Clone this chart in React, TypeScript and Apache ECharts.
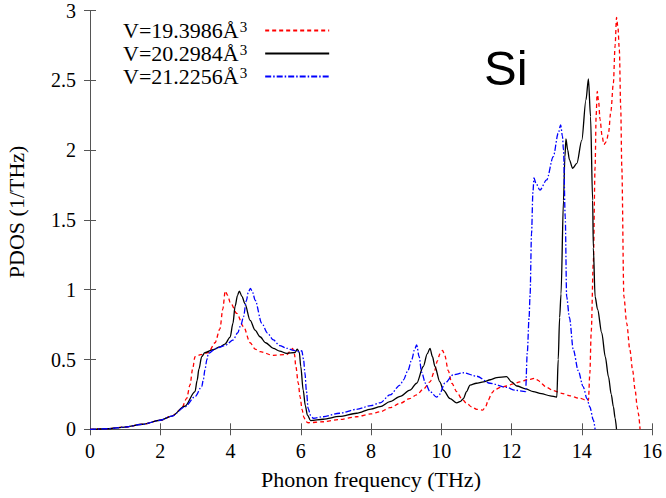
import React, { useEffect, useRef } from "react";
import * as echarts from "echarts";

const seriesNames = ["V=19.3986", "V=20.2984", "V=21.2256"];
const volumeUnit = "Å";

const red: number[][] = [
  [0, 0], [0.5, 0.004], [1.0, 0.016], [1.5, 0.036], [2.0, 0.065], [2.33, 0.095], [2.6, 0.145], [2.75, 0.22],
  [2.85, 0.32], [2.92, 0.43], [2.99, 0.52], [3.15, 0.535], [3.37, 0.55], [3.56, 0.62], [3.7, 0.72], [3.78, 0.86],
  [3.85, 0.99], [3.92, 0.96], [3.99, 0.91], [4.18, 0.83], [4.37, 0.735], [4.56, 0.62], [4.7, 0.575], [4.84, 0.556],
  [5.21, 0.53], [5.6, 0.535], [5.72, 0.565], [5.77, 0.58], [5.82, 0.54], [5.86, 0.45], [5.93, 0.33], [5.98, 0.234],
  [6.04, 0.14], [6.09, 0.086], [6.15, 0.055], [6.21, 0.047], [6.64, 0.054], [7.1, 0.07], [7.59, 0.09], [8.0, 0.11],
  [8.26, 0.126], [8.54, 0.155], [8.83, 0.186], [9.1, 0.22], [9.3, 0.246], [9.5, 0.29], [9.68, 0.34], [9.8, 0.41],
  [9.89, 0.49], [9.96, 0.54], [10.04, 0.565], [10.1, 0.53], [10.2, 0.42], [10.3, 0.33], [10.44, 0.27], [10.58, 0.22],
  [10.72, 0.186], [10.87, 0.16], [11.01, 0.143], [11.18, 0.138], [11.26, 0.16], [11.34, 0.21], [11.44, 0.26],
  [11.53, 0.286], [11.7, 0.3], [11.86, 0.31], [12.05, 0.325], [12.24, 0.34], [12.45, 0.355], [12.67, 0.365],
  [12.76, 0.35], [12.86, 0.325], [13.0, 0.3], [13.19, 0.277], [13.43, 0.258], [13.67, 0.24], [13.93, 0.222],
  [14.19, 0.205], [14.23, 0.4], [14.27, 0.7], [14.33, 1.2], [14.38, 1.88], [14.41, 2.25], [14.44, 2.42], [14.48, 2.35],
  [14.52, 2.22], [14.58, 2.1], [14.63, 2.04], [14.7, 2.06], [14.76, 2.12], [14.83, 2.28], [14.9, 2.48], [14.95, 2.75],
  [14.99, 2.95], [15.03, 2.88], [15.07, 2.72], [15.11, 2.3], [15.14, 1.88], [15.2, 0.95], [15.28, 0.76], [15.37, 0.57],
  [15.45, 0.42], [15.52, 0.28], [15.58, 0.16], [15.61, 0.115], [15.66, 0],
];

const black: number[][] = [
  [0, 0], [0.5, 0.004], [1.0, 0.016], [1.5, 0.036], [2.0, 0.065], [2.33, 0.095], [2.7, 0.165], [2.99, 0.27],
  [3.05, 0.35], [3.1, 0.43], [3.18, 0.52], [3.27, 0.549], [3.5, 0.57], [3.7, 0.59], [3.84, 0.61], [3.99, 0.66],
  [4.07, 0.76], [4.13, 0.88], [4.2, 0.96], [4.25, 0.99], [4.33, 0.95], [4.41, 0.9], [4.56, 0.78], [4.7, 0.71],
  [4.84, 0.663], [5.0, 0.62], [5.22, 0.58], [5.4, 0.56], [5.6, 0.544], [5.84, 0.55], [5.9, 0.575], [5.96, 0.55],
  [6.0, 0.45], [6.07, 0.28], [6.13, 0.17], [6.19, 0.102], [6.28, 0.062], [6.64, 0.072], [7.1, 0.092], [7.59, 0.115],
  [8.0, 0.145], [8.26, 0.162], [8.54, 0.198], [8.83, 0.236], [9.11, 0.28], [9.3, 0.33], [9.49, 0.45], [9.6, 0.54],
  [9.68, 0.58], [9.75, 0.52], [9.82, 0.45], [9.96, 0.34], [10.06, 0.28], [10.25, 0.22], [10.44, 0.19], [10.55, 0.2],
  [10.63, 0.22], [10.72, 0.27], [10.82, 0.317], [11.0, 0.33], [11.2, 0.34], [11.4, 0.355], [11.58, 0.37],
  [11.86, 0.377], [12.0, 0.34], [12.15, 0.31], [12.4, 0.29], [12.62, 0.27], [12.85, 0.255], [13.1, 0.24],
  [13.29, 0.23], [13.33, 0.5], [13.37, 0.8], [13.41, 0.97], [13.48, 1.64], [13.52, 1.95], [13.55, 2.08], [13.6, 2.0],
  [13.65, 1.93], [13.74, 1.87], [13.86, 1.905], [14.0, 2.07], [14.12, 2.36], [14.19, 2.51], [14.25, 2.24],
  [14.31, 1.64], [14.33, 1.3], [14.38, 0.95], [14.45, 0.86], [14.57, 0.69], [14.67, 0.52], [14.76, 0.377],
  [14.84, 0.25], [14.9, 0.162], [14.95, 0.08], [14.99, 0],
];

const blue: number[][] = [
  [0, 0], [0.5, 0.004], [1.0, 0.016], [1.5, 0.036], [2.0, 0.065], [2.33, 0.095], [2.7, 0.16], [2.99, 0.234],
  [3.18, 0.305], [3.23, 0.36], [3.27, 0.425], [3.33, 0.5], [3.37, 0.544], [3.6, 0.58], [3.84, 0.6], [4.08, 0.64],
  [4.2, 0.69], [4.3, 0.75], [4.37, 0.807], [4.45, 0.92], [4.51, 0.986], [4.57, 1.01], [4.63, 0.98], [4.7, 0.926],
  [4.89, 0.76], [5.05, 0.69], [5.22, 0.64], [5.4, 0.6], [5.6, 0.58], [5.8, 0.565], [5.98, 0.555], [6.03, 0.563],
  [6.08, 0.5], [6.12, 0.4], [6.16, 0.28], [6.21, 0.15], [6.28, 0.1], [6.36, 0.079], [6.64, 0.09], [7.1, 0.115],
  [7.59, 0.143], [8.0, 0.17], [8.26, 0.19], [8.54, 0.246], [8.83, 0.317], [8.92, 0.353], [9.05, 0.42], [9.16, 0.5],
  [9.25, 0.58], [9.3, 0.604], [9.37, 0.52], [9.44, 0.41], [9.55, 0.33], [9.68, 0.27], [9.87, 0.23], [9.95, 0.25],
  [10.1, 0.33], [10.34, 0.39], [10.63, 0.405], [11.01, 0.38], [11.39, 0.33], [11.86, 0.3], [12.1, 0.28],
  [12.4, 0.27], [12.45, 0.55], [12.5, 0.8], [12.53, 0.97], [12.57, 1.4], [12.61, 1.7], [12.64, 1.8], [12.7, 1.76],
  [12.81, 1.714], [13.0, 1.786], [13.19, 1.953], [13.33, 2.12], [13.4, 2.18], [13.45, 2.1], [13.48, 2.0],
  [13.53, 1.52], [13.57, 0.95], [13.65, 0.8], [13.76, 0.57], [13.9, 0.42], [14.04, 0.305], [14.15, 0.22],
  [14.23, 0.16], [14.33, 0.067], [14.38, 0],
];

const xTicks = [0, 2, 4, 6, 8, 10, 12, 14, 16];
const yTicks = [0, 0.5, 1, 1.5, 2, 2.5, 3];

const SERIF = "Liberation Serif";
const AXIS_COLOR = "#555";

export default function App() {
  const ref = useRef<HTMLDivElement>(null);
  useEffect(() => {
    if (!ref.current) return;
    const chart = echarts.init(ref.current, null, { renderer: "svg" });
    const baseX = {
      type: "value",
      min: xTicks[0],
      max: xTicks[xTicks.length - 1],
      interval: xTicks[1] - xTicks[0],
      splitLine: { show: false },
      axisLine: { show: true, lineStyle: { color: AXIS_COLOR, width: 1 } },
      axisTick: { show: true, inside: true, length: 6, lineStyle: { color: AXIS_COLOR } },
    };
    const baseY = {
      type: "value",
      min: yTicks[0],
      max: yTicks[yTicks.length - 1],
      interval: yTicks[1] - yTicks[0],
      splitLine: { show: false },
      axisLine: { show: true, lineStyle: { color: AXIS_COLOR, width: 1 } },
      axisTick: { show: true, inside: true, length: 6, lineStyle: { color: AXIS_COLOR } },
    };
    const mk = (name: string, data: number[][], color: string, type: any) => ({
      name,
      type: "line",
      data,
      showSymbol: false,
      symbol: "none",
      smooth: 0.3,
      smoothMonotone: "x",
      lineStyle: { color, width: 1.3, type },
      itemStyle: { color },
      z: 3,
    });
    chart.setOption({
      animation: false,
      backgroundColor: "#fff",
      grid: { left: 90, right: 14, top: 10.5, bottom: 68.7, containLabel: false, outerBoundsMode: "none" },
      legend: {
        orient: "vertical",
        left: 118,
        top: 14,
        align: "right",
        itemWidth: 64,
        itemHeight: 10,
        itemGap: 0,
        itemStyle: { opacity: 0 },
        formatter: (n: string) => `{a|${n}${volumeUnit}}{s|3}`,
        textStyle: {
          fontFamily: SERIF,
          fontSize: 22,
          color: "#000",
          lineHeight: 22,
          rich: {
            a: { fontFamily: SERIF, fontSize: 22, color: "#000", lineHeight: 22 },
            s: { fontFamily: SERIF, fontSize: 15, color: "#000", lineHeight: 14, padding: [0, 13, 8, 1] },
          },
        },
        data: seriesNames,
      },
      xAxis: [
        {
          ...baseX,
          position: "bottom",
          name: "Phonon frequency (THz)",
          nameLocation: "middle",
          nameGap: 39,
          nameTextStyle: { fontFamily: SERIF, fontSize: 22, color: "#000" },
          axisLabel: { fontFamily: SERIF, fontSize: 20, color: "#000", margin: 12 },
        },
        {
          ...baseX,
          position: "top",
          axisLabel: { show: false },
        },
      ],
      yAxis: [
        {
          ...baseY,
          position: "left",
          name: "PDOS (1/THz)",
          nameLocation: "middle",
          nameGap: 63,
          nameTextStyle: { fontFamily: SERIF, fontSize: 22, color: "#000", padding: [0, 0, 0, 16] },
          axisLabel: { fontFamily: SERIF, fontSize: 20, color: "#000", margin: 14 },
        },
        {
          ...baseY,
          position: "right",
          axisLabel: { show: false },
        },
      ],
      graphic: [
        {
          type: "text",
          left: 484,
          top: 43,
          style: { text: "Si", fontFamily: "Liberation Sans", fontSize: 49, fill: "#000" },
        },
      ],
      series: [
        mk(seriesNames[0], red, "#ff0000", [4, 3]),
        mk(seriesNames[1], black, "#000000", "solid"),
        mk(seriesNames[2], blue, "#0000ff", [6, 2, 1.5, 2]),
      ],
    });
    return () => chart.dispose();
  }, []);
  return (
    <div
      ref={ref}
      style={{ position: "fixed", left: 0, top: 0, width: 666, height: 498, background: "#fff" }}
    />
  );
}
